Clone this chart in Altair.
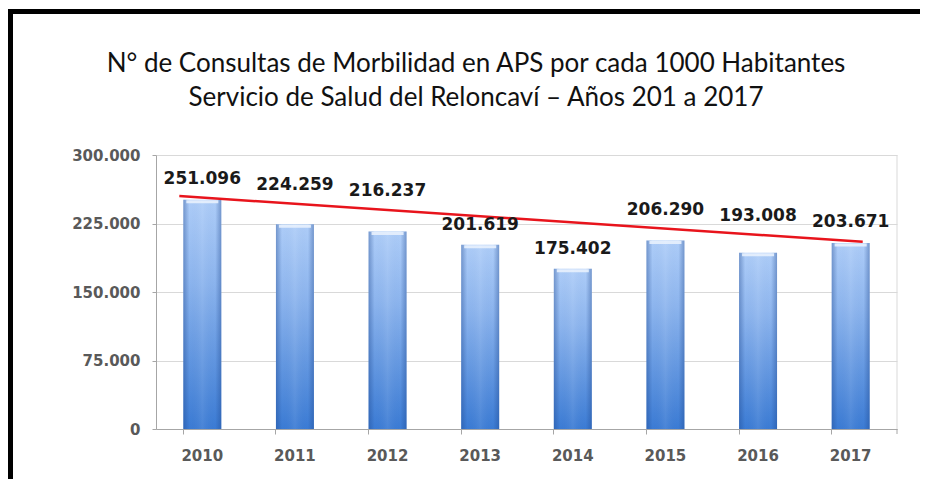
import altair as alt
import pandas as pd

years = ["2010", "2011", "2012", "2013", "2014", "2015", "2016", "2017"]
values = [251096, 224259, 216237, 201619, 175402, 206290, 193008, 203671]
trend_start = 255000
trend_end = 205000
y_ticks = [0, 75000, 150000, 225000, 300000]
title_line1 = "N°  de Consultas de Morbilidad en APS por cada 1000 Habitantes"
title_line2 = "Servicio de Salud del Reloncaví – Años 201 a 2017"

W, H = 741, 274
STEP = W / len(years)
TREND_X0_OFF, TREND_X1_OFF = -23, 12
label_font = "DejaVu Sans"

df = pd.DataFrame({"year": years, "value": values, "idx": list(range(len(years)))})
trend_df = pd.DataFrame({"year": [years[0]], "year2": [years[-1]], "value": [trend_start], "value2": [trend_end]})
one = pd.DataFrame({"a": [0]})

# trend value at each bar centre (line extends slightly beyond first/last centre)
a0 = TREND_X0_OFF / STEP
a1 = (len(years) - 1) + TREND_X1_OFF / STEP
trend_expr = f"{trend_start} + ({trend_end} - {trend_start}) * (datum.idx - ({a0})) / ({a1 - a0})"

x_scale = alt.Scale(domain=years, paddingInner=0.59, paddingOuter=0.295)
x_enc = alt.X(
    "year:N",
    scale=x_scale,
    axis=alt.Axis(
        title=None, labelAngle=0, bandPosition=0,
        labelFont=label_font, labelFontWeight="bold", labelFontSize=15, labelColor="#595959",
        labelPadding=14, domainColor="#a6a6a6", tickColor="#a6a6a6", tickSize=5,
    ),
)
y_scale = alt.Scale(domain=[0, 300000], nice=False)
y_enc = alt.Y(
    "value:Q",
    scale=y_scale,
    axis=alt.Axis(
        title=None, values=y_ticks,
        labelExpr="datum.value == 0 ? '0' : replace(format(datum.value, ',.0f'), ',', '.')",
        labelFont=label_font, labelFontWeight="bold", labelFontSize=15, labelColor="#595959",
        labelPadding=12, domainColor="#a6a6a6", tickColor="#a6a6a6", tickSize=4,
        gridColor="#d9d9d9", gridWidth=1,
    ),
)

base = alt.Chart(df)

bars = base.mark_bar(
    color=alt.Gradient(
        gradient="linear", x1=0, x2=0, y1=0, y2=1,
        stops=[
            alt.GradientStop(color="#aecdf8", offset=0),
            alt.GradientStop(color="#8db5ee", offset=0.35),
            alt.GradientStop(color="#3b7bd4", offset=1),
        ],
    )
).encode(x=x_enc, y=y_enc)

shade = base.mark_bar(
    color=alt.Gradient(
        gradient="linear", x1=0, x2=1, y1=0, y2=0,
        stops=[
            alt.GradientStop(color="rgba(30,70,140,0.4)", offset=0),
            alt.GradientStop(color="rgba(30,70,140,0.0)", offset=0.16),
            alt.GradientStop(color="rgba(255,255,255,0.08)", offset=0.5),
            alt.GradientStop(color="rgba(30,70,140,0.0)", offset=0.84),
            alt.GradientStop(color="rgba(30,70,140,0.4)", offset=1),
        ],
    )
).encode(x=alt.X("year:N", scale=x_scale), y=alt.Y("value:Q", stack=None))

cap = base.mark_tick(color="#e8f1fd", thickness=3, opacity=0.9, size=32, yOffset=2).encode(
    x=alt.X("year:N", scale=x_scale), y=alt.Y("value:Q", stack=None)
)

trend = alt.Chart(trend_df).mark_rule(
    color="#e8141c", strokeWidth=2.5, xOffset=TREND_X0_OFF, x2Offset=TREND_X1_OFF
).encode(
    x=alt.X("year:N", scale=x_scale), x2="year2:N", y=alt.Y("value:Q", stack=None), y2="value2:Q"
)

label_base = base.transform_calculate(
    label="replace(format(datum.value, ',.0f'), ',', '.')",
    trend_at=trend_expr,
)
text_style = dict(font=label_font, fontWeight="bold", fontSize=17, color="#1a1a1a", baseline="middle")

# labels sitting in the gap between bar and trend line
labels_gap = label_base.transform_filter("datum.trend_at - datum.value > 27000").mark_text(
    dy=-20, **text_style
).encode(
    x=alt.X("year:N", scale=x_scale), y=alt.Y("value:Q", stack=None), text="label:N"
)
# labels sitting above the trend line
labels_above = label_base.transform_filter("datum.trend_at - datum.value <= 27000").mark_text(
    dy=-19, **text_style
).encode(
    x=alt.X("year:N", scale=x_scale), y=alt.Y("trend_at:Q", stack=None), text="label:N"
)

right_edge = alt.Chart(one).mark_rule(color="#d9d9d9", strokeWidth=1).encode(
    x=alt.value(W), y=alt.value(0), y2=alt.value(H)
)
right_tick = alt.Chart(one).mark_rule(color="#a6a6a6", strokeWidth=1).encode(
    x=alt.value(W), y=alt.value(H), y2=alt.value(H + 5)
)

frame_top = alt.Chart(one).mark_rule(color="black", strokeWidth=5).encode(
    x=alt.value(-148), x2=alt.value(780), y=alt.value(-143.5)
)
frame_left = alt.Chart(one).mark_rule(color="black", strokeWidth=5).encode(
    x=alt.value(-145.5), y=alt.value(-146), y2=alt.value(333)
)

title_style = dict(font="Lato", fontSize=26, color="#111111", align="center", baseline="alphabetic")
title1 = alt.Chart(one).mark_text(text=title_line1, **title_style).encode(
    x=alt.value(320), y=alt.value(-83)
)
title2 = alt.Chart(one).mark_text(text=title_line2, **title_style).encode(
    x=alt.value(320), y=alt.value(-49)
)

chart = alt.layer(
    right_edge, bars, shade, cap, trend, labels_gap, labels_above, right_tick,
    frame_top, frame_left, title1, title2
).properties(
    width=W, height=H,
    autosize=alt.AutoSizeParams(type="none"),
    padding={"left": 148, "top": 147, "right": 23, "bottom": 50},
).configure_view(stroke=None)

chart.save("out.html", embed_options={"renderer": "svg", "actions": False})
